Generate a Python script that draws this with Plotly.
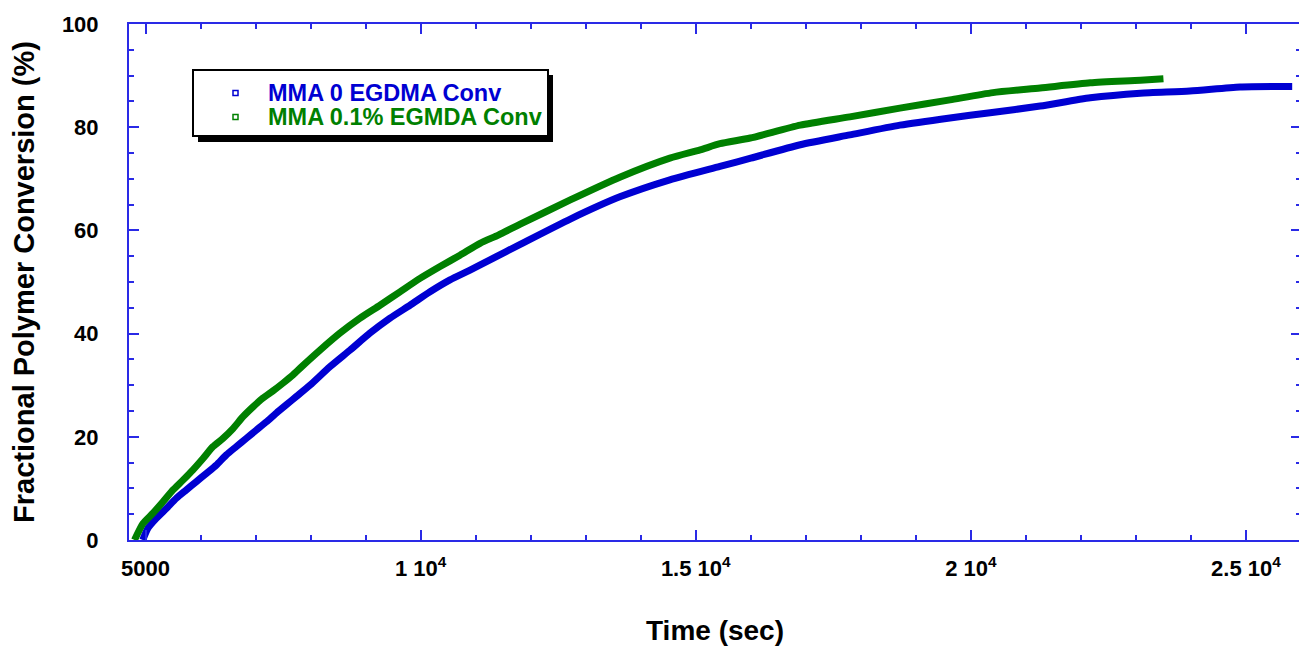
import plotly.graph_objects as go

# ---- data ----
time_0 = [4950, 5045, 5196, 5378, 5560, 5741, 5923, 6105, 6287, 6469, 6650, 6832,
          7014, 7196, 7378, 7559, 7741, 7990, 8353, 8717, 9080, 9444, 9807, 10171,
          10534, 10898, 11261, 11810, 12720, 13620, 14530, 15440, 16000, 16900,
          17800, 18710, 19620, 20350, 21260, 22170, 23080, 23980, 24890, 25840]
conv_0 = [0.0, 2.3, 4.2, 6.1, 8.1, 9.7, 11.3, 12.9, 14.5, 16.5, 18.1, 19.7,
          21.3, 22.9, 24.6, 26.2, 27.8, 30.0, 33.6, 36.8, 40.1, 43.0, 45.5, 48.1,
          50.4, 52.3, 54.3, 57.3, 62.2, 66.5, 69.8, 72.4, 74.0, 76.6,
          78.5, 80.4, 81.8, 82.8, 84.1, 85.7, 86.6, 87.0, 87.8, 87.9]

time_01 = [4800, 4954, 5136, 5318, 5500, 5681, 5863, 6045, 6227, 6408, 6590, 6772,
           6954, 7135, 7317, 7499, 7681, 7840, 8172, 8535, 8899, 9262, 9625, 9989,
           10353, 10716, 11080, 11412, 11810, 12720, 13620, 14530, 15080, 15440,
           15990, 16900, 17800, 18710, 19620, 20400, 21260, 22170, 23080, 23500]
conv_01 = [0.0, 3.2, 5.2, 7.4, 9.7, 11.6, 13.6, 15.8, 18.1, 19.7, 21.6, 23.9,
           25.8, 27.5, 28.9, 30.4, 32.0, 33.6, 36.8, 40.1, 43.0, 45.5, 48.1, 50.7,
           53.0, 55.2, 57.5, 59.1, 61.2, 65.9, 70.3, 74.0, 75.6, 76.8,
           77.9, 80.4, 82.0, 83.7, 85.3, 86.7, 87.6, 88.6, 89.1, 89.4]

series_names = ["MMA 0 EGDMA Conv", "MMA 0.1% EGMDA Conv"]
x_tickvals = [5000, 10000, 15000, 20000, 25000]
x_ticktext = ["5000", "1 10<sup>4</sup>", "1.5 10<sup>4</sup>", "2 10<sup>4</sup>", "2.5 10<sup>4</sup>"]
x_minor = list(range(5000, 26001, 1000))

BLUE = "#0000d2"
GREEN = "#008000"
AXIS = "#2a2ae6"
FONT = "Liberation Sans"

# page adds an 8px body margin, so the figure is laid out 8px up/left
OFF = 8
W, H = 1307 - OFF, 646 - OFF
L, R, T, B = 129 - OFF, 1301 - OFF, 24 - OFF, 540 - OFF


def px(x):
    return (x - OFF - L) / (R - L)


def py(y):
    return (B - (y - OFF)) / (B - T)


fig = go.Figure()
fig.add_trace(go.Scatter(x=time_0, y=conv_0, mode="lines",
                         line=dict(color=BLUE, width=7, shape="spline", smoothing=0.6),
                         name=series_names[0], showlegend=False))
fig.add_trace(go.Scatter(x=time_01, y=conv_01, mode="lines",
                         line=dict(color=GREEN, width=7, shape="spline", smoothing=0.6),
                         name=series_names[1], showlegend=False))

axis_common = dict(showline=True, linecolor=AXIS, linewidth=2, mirror="ticks",
                   ticks="inside", tickcolor=AXIS, tickwidth=2, ticklen=10,
                   showgrid=False, zeroline=False,
                   tickfont=dict(family=FONT, size=22, color="black", weight="bold"))

fig.update_xaxes(range=[4700, 26000], tickmode="array", tickvals=x_tickvals,
                 ticktext=x_ticktext, ticklabelstandoff=8,
                 minor=dict(tickmode="array", tickvals=x_minor, ticks="inside",
                            ticklen=5, tickcolor=AXIS, tickwidth=2),
                 title=dict(text="Time (sec)", standoff=40,
                            font=dict(family=FONT, size=28, color="black", weight="bold")),
                 **axis_common)
fig.update_yaxes(range=[0, 100], tickmode="linear", tick0=0, dtick=20,
                 ticklabelstandoff=24,
                 minor=dict(dtick=5, ticks="inside", ticklen=5, tickcolor=AXIS, tickwidth=2),
                 title=dict(text="Fractional Polymer Conversion (%)", standoff=21,
                            font=dict(family=FONT, size=29, color="black", weight="bold")),
                 **axis_common)

# legend box drawn by hand (with drop shadow)
shapes = [
    dict(type="rect", xref="paper", yref="paper", x0=px(198), x1=px(553), y0=py(142), y1=py(75),
         fillcolor="black", line=dict(width=0), layer="above"),
    dict(type="rect", xref="paper", yref="paper", x0=px(193), x1=px(548), y0=py(136), y1=py(70),
         fillcolor="white", line=dict(color="black", width=2), layer="above"),
]
for cy, col in [(93, BLUE), (117, GREEN)]:
    shapes.append(dict(type="rect", xref="paper", yref="paper",
                       x0=px(233), x1=px(238), y0=py(cy + 2.5), y1=py(cy - 2.5),
                       line=dict(color=col, width=1.5), fillcolor="white", layer="above"))
annotations = []
for cy, col, name in [(93, BLUE, series_names[0]), (117, GREEN, series_names[1])]:
    annotations.append(dict(xref="paper", yref="paper", x=px(266), y=py(cy),
                            xanchor="left", yanchor="middle", showarrow=False,
                            text=name, font=dict(family=FONT, size=23.5, color=col, weight="bold")))

fig.update_layout(width=W, height=H, margin=dict(l=L, r=W - R, t=T, b=H - B, autoexpand=False),
                  plot_bgcolor="white", paper_bgcolor="white", showlegend=False,
                  shapes=shapes, annotations=annotations)

fig.write_html("out.html")
